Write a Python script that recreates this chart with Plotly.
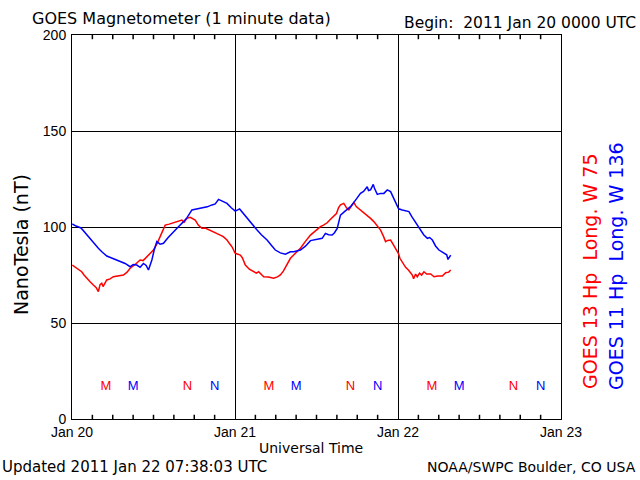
import plotly.graph_objects as go
import pandas as pd

START = pd.Timestamp("2011-01-20 00:00")

# Hours since 2011 Jan 20 00:00 UTC and field values (nT)
blue_hours = [0.04,0.59,1.33,1.92,2.66,3.25,3.88,4.43,5.12,5.75,6.59,7.23,7.82,8.56,9.00,9.54,10.03,10.52,10.92,11.26,11.51,11.76,12.10,12.49,12.98,13.47,14.16,14.94,15.64,16.42,16.96,17.66,18.44,19.37,19.91,20.61,21.09,21.58,22.13,22.82,23.45,24.04,24.68,25.22,26.01,26.55,27.25,27.88,28.72,29.35,29.94,30.68,31.42,32.16,32.64,33.63,34.37,35.11,35.85,36.83,37.32,37.76,38.31,38.65,39.05,39.53,40.12,41.01,41.75,42.48,42.93,43.47,43.66,43.96,44.36,44.55,44.95,45.44,45.92,46.42,46.91,47.35,47.79,48.09,48.63,49.12,49.61,50.01,50.35,50.89,51.34,51.78,52.32,52.66,53.06,53.55,54.03,54.58,54.87,55.17,55.36,55.61,55.76]
blue_nt = [101.6,100.5,99.5,97,94,91,88.9,87,84.9,84,82.8,81.5,81,79.3,80.5,80.2,79,81,80,77.6,80,82.8,88,92.4,91,91.5,94.5,97.6,100,102.8,105,108.9,109.5,110,110.5,111.5,112,114.4,113.5,112.3,110,108.3,109.4,107,103.6,101,98.4,96,93.2,90.5,88,86.5,85.8,87.1,87.1,88,90,92.9,93.5,94.1,96.7,96,95.8,97,99.3,106.2,108,110.6,114,117.5,118.5,121,119,119.3,122.2,120,117,117.5,117.5,119.3,118.4,115,112.3,109.5,108.9,108.5,108,105.5,103.6,101,98.4,96,94.1,94.5,93.2,90,88,87,86.3,85.5,83.1,84.5,85.4]

red_hours = [0.04,0.74,1.43,1.77,2.17,2.66,3.14,3.54,3.88,4.13,4.38,4.57,5.12,5.61,6.09,6.79,7.57,8.11,8.56,9.29,10.03,10.47,11.02,11.51,11.99,12.54,12.98,13.28,13.72,14.31,14.94,15.49,16.18,16.52,16.92,17.41,18.14,18.59,19.13,19.62,20.36,21.09,21.83,22.27,22.82,23.16,23.56,24.04,24.78,25.08,25.52,26.11,26.74,27.14,27.48,27.88,28.22,28.91,29.69,30.24,30.68,31.12,31.67,32.16,32.64,33.04,33.63,34.37,35.11,35.85,36.58,37.03,37.57,38.06,38.54,38.94,39.24,39.53,40.02,40.42,40.76,41.01,41.49,41.89,42.48,42.93,43.47,43.96,44.44,44.99,45.44,45.88,46.17,46.47,46.91,47.35,47.79,48.09,48.28,48.68,49.12,49.56,50.11,50.30,50.59,50.84,51.18,51.48,51.82,52.22,52.81,53.30,53.84,54.53,55.02,55.46,55.76]
red_nt = [80.2,78.5,76.7,75,73.3,71.5,69.8,68.5,66.3,70,70.7,69,72.4,73,74.1,74.5,75,76.5,78.5,80.5,82.8,82.5,84.5,86,88,91.5,94.9,97,101,101.5,102.2,103,103.6,102.5,104.5,105,103.6,101,99.3,99.5,98.4,97,95.8,95,93.2,91.5,89.7,86.3,85.4,84,80.2,78,76.7,76,76.7,75.5,74.1,74,73.3,74,75,77,80.2,83.7,85.4,87,88.9,92.5,95.8,98,100.2,101,102.2,104,105.4,107,110,111.5,112.3,110,108.9,110,112.7,110.5,108.9,107.5,106.2,104.5,102.8,100.5,98.4,95,92.4,93,93.2,90.5,88,86,83.7,81.5,79,77.5,75,73,75.5,74.1,76,75,76.7,75.5,75.5,74.1,74.5,74.5,76.2,76.5,77.6]

# Local midnight (M) / noon (N) markers
red_mark_hours = [5, 17, 29, 41, 53, 65]
red_mark_text = ["M", "N", "M", "N", "M", "N"]
blue_mark_hours = [9, 21, 33, 45, 57, 69]
blue_mark_text = ["M", "N", "M", "N", "M", "N"]
mark_level = 17

x_range_hours = [0, 72]
minor_tick_hours = [3, 6, 9, 12, 15, 18, 21, 27, 30, 33, 36, 39, 42, 45, 51, 54, 57, 60, 63, 66, 69]
tick_len_nt = 2.2   # inward tick length expressed in axis units (about 4 px)
y_range = [0, 200]
y_ticks = [0, 50, 100, 150, 200]

RED = "#ff0000"
BLUE = "#0000ff"
FONT = "Liberation Sans"
WIDE = "DejaVu Sans"


def to_time(hours):
    return [START + pd.Timedelta(hours=h) for h in hours]


fig = go.Figure()
fig.add_trace(go.Scatter(x=to_time(red_hours), y=red_nt, mode="lines",
                         line=dict(color=RED, width=1.5), showlegend=False))
fig.add_trace(go.Scatter(x=to_time(blue_hours), y=blue_nt, mode="lines",
                         line=dict(color=BLUE, width=1.5), showlegend=False))
fig.add_trace(go.Scatter(x=to_time(red_mark_hours), y=[mark_level] * len(red_mark_hours),
                         mode="text", text=red_mark_text,
                         textfont=dict(color=RED, size=13, family=FONT),
                         showlegend=False))
fig.add_trace(go.Scatter(x=to_time(blue_mark_hours), y=[mark_level] * len(blue_mark_hours),
                         mode="text", text=blue_mark_text,
                         textfont=dict(color=BLUE, size=13, family=FONT),
                         showlegend=False))

# 3-hour tick marks along bottom and top edges, drawn as short line segments
tick_x, tick_y = [], []
for t in to_time(minor_tick_hours):
    tick_x += [t, t, None, t, t, None]
    tick_y += [y_range[0], y_range[0] + tick_len_nt, None,
               y_range[1], y_range[1] - tick_len_nt, None]
fig.add_trace(go.Scatter(x=tick_x, y=tick_y, mode="lines", hoverinfo="skip",
                         line=dict(color="black", width=1.5), showlegend=False))

L, R, T, B = 72, 79, 35, 61
pw = 640 - L - R
ph = 480 - T - B


def px(x):
    return (x - L) / pw


def py(y):
    return (480 - B - y) / ph


x_range = to_time(x_range_hours)

fig.update_layout(
    width=640, height=480,
    margin=dict(l=L, r=R, t=T, b=B),
    paper_bgcolor="white", plot_bgcolor="white",
    font=dict(family=FONT, size=14, color="black"),
    xaxis=dict(type="date", range=x_range,
               tickmode="linear", tick0=START, dtick=86400000, tickformat="%b %d",
               showgrid=True, gridcolor="black", gridwidth=1,
               ticks="", showline=True, linecolor="black", linewidth=1, mirror=True,
               zeroline=False, tickfont=dict(size=14, family=FONT)),
    yaxis=dict(range=y_range, tickvals=y_ticks,
               showgrid=True, gridcolor="black", gridwidth=1,
               ticks="", showline=True, linecolor="black", linewidth=1, mirror=True,
               zeroline=False, ticklabelstandoff=2, tickfont=dict(size=14, family=FONT)),
)

ann = [
    dict(text="GOES Magnetometer (1 minute data)", x=px(30), y=py(18), xanchor="left", size=16),
    dict(text="Begin:  2011 Jan 20 0000 UTC", x=px(638), y=py(23), xanchor="right", size=15.5),
    dict(text="Universal Time", x=px(311), y=py(448), xanchor="center", size=14),
    dict(text="Updated 2011 Jan 22 07:38:03 UTC", x=px(0), y=py(467), xanchor="left", size=15),
    dict(text="NOAA/SWPC Boulder, CO USA", x=px(638), y=py(467), xanchor="right", size=14),
]
for a in ann:
    fig.add_annotation(text=a["text"], x=a["x"], y=a["y"], xref="paper", yref="paper",
                       xanchor=a["xanchor"], yanchor="middle", showarrow=False,
                       font=dict(size=a["size"], family=WIDE, color="black"))

fig.add_annotation(text="NanoTesla (nT)", x=px(21), y=py(245), xref="paper", yref="paper",
                   textangle=-90, showarrow=False, xanchor="center", yanchor="middle",
                   font=dict(size=19, family=WIDE, color="black"))
fig.add_annotation(text="GOES 13 Hp&nbsp;&nbsp;Long. W 75", x=px(590), y=py(391), xref="paper", yref="paper",
                   textangle=-90, showarrow=False, xanchor="center", yanchor="bottom",
                   font=dict(size=19, family=WIDE, color=RED))
fig.add_annotation(text="GOES 11 Hp&nbsp;&nbsp;Long. W 136", x=px(616), y=py(392), xref="paper", yref="paper",
                   textangle=-90, showarrow=False, xanchor="center", yanchor="bottom",
                   font=dict(size=19, family=WIDE, color=BLUE))

fig.write_html("out.html")
